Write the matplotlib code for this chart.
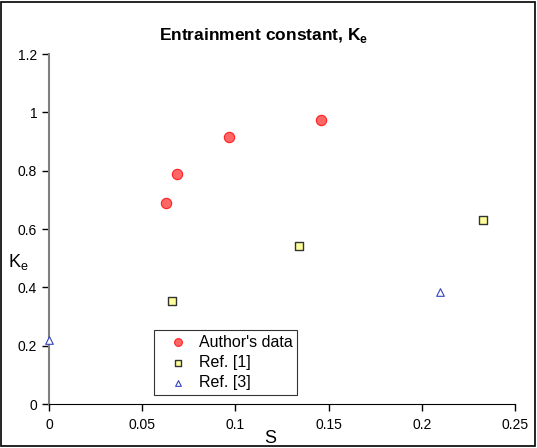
import matplotlib
matplotlib.use("Agg")
import matplotlib.pyplot as plt
from matplotlib.patches import Rectangle

plt.rcParams['font.family'] = ['Liberation Sans', 'DejaVu Sans']

author_x = [0.063, 0.0687, 0.0966, 0.146]
author_y = [0.689, 0.789, 0.915, 0.974]
ref1_x = [0.066, 0.134, 0.233]
ref1_y = [0.352, 0.542, 0.631]
ref3_x = [0.0, 0.210]
ref3_y = [0.219, 0.384]
xticks = [0, 0.05, 0.1, 0.15, 0.2, 0.25]
xticklabels = ['0', '0.05', '0.1', '0.15', '0.2', '0.25']
yticks = [0, 0.2, 0.4, 0.6, 0.8, 1.0, 1.2]
yticklabels = ['0', '0.2', '0.4', '0.6', '0.8', '1', '1.2']

fig = plt.figure(figsize=(5.37, 4.48), dpi=100)
ax = fig.add_axes([49/537, 1 - 404/448, (515 - 49)/537, (404 - 54)/448])
fig.patches.append(Rectangle((0.002, 0.004), 0.994, 0.992, transform=fig.transFigure,
                             fill=False, edgecolor='black', linewidth=1.2))

ax.scatter(author_x, author_y, s=55, marker='o', facecolor='#ff6666', edgecolor='#ff2020',
           linewidth=0.8, label="Author's data", zorder=3, clip_on=False)
ax.scatter(ref1_x, ref1_y, s=36, marker='s', facecolor='#ffff99', edgecolor='#333333',
           linewidth=1.0, label='Ref. [1]', zorder=3, clip_on=False)
ax.scatter(ref3_x, ref3_y, s=30, marker='^', facecolor='white', edgecolor='#3344bb',
           linewidth=0.8, label='Ref. [3]', zorder=3, clip_on=False)

ax.set_xlim(0, 0.25)
ax.set_ylim(0, 1.2)
ax.set_xticks(xticks)
ax.set_xticklabels(xticklabels)
ax.set_yticks(yticks)
ax.set_yticklabels(yticklabels)
ax.spines['top'].set_visible(False)
ax.spines['right'].set_visible(False)
ax.spines['left'].set_color('#808080')
ax.spines['left'].set_linewidth(1.5)
ax.spines['bottom'].set_color('black')
ax.tick_params(axis='both', direction='out', length=5, labelsize=10, width=1)
ax.tick_params(axis='x', pad=5)

ax.set_title(r'Entrainment constant, K$_\mathregular{e}$', fontsize=12.5, fontweight='bold',
             pad=10, x=0.461)
ax.set_xlabel('S', fontsize=13)
ax.xaxis.set_label_coords(0.475, -0.075)
ax.set_ylabel(r'K$_\mathregular{e}$', fontsize=13, rotation=0, va='center', ha='center')
ax.yaxis.set_label_coords(-0.066, 0.405)

leg = ax.legend(loc='lower left', bbox_to_anchor=(105/466, 9/350), borderaxespad=0,
                fontsize=11.5, frameon=True, fancybox=False, edgecolor='black',
                handletextpad=0.1, borderpad=0.3, labelspacing=0.33, handlelength=2.4,
                markerscale=0.75)
leg.get_frame().set_linewidth(0.8)

fig.savefig('out.png', dpi=100)
